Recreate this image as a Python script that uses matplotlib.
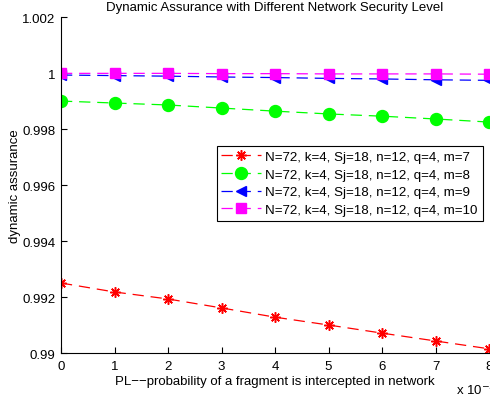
import numpy as np
import matplotlib
matplotlib.use("Agg")
import matplotlib.pyplot as plt

# data
pl = [0, 1, 2, 3, 4, 5, 6, 7, 8]  # x 10^-3
m7 = [0.99250, 0.99218, 0.99193, 0.99161, 0.99128, 0.99100, 0.99071, 0.99043, 0.99015]
m8 = [0.99900, 0.99893, 0.99886, 0.99875, 0.99864, 0.99854, 0.99846, 0.99836, 0.99825]
m9 = [0.99993, 0.99991, 0.99989, 0.99986, 0.99984, 0.99981, 0.99979, 0.99976, 0.99974]
m10 = [0.99999, 0.99999, 0.99999, 0.99998, 0.99998, 0.99997, 0.99997, 0.99997, 0.99996]
labels = ["N=72, k=4, Sj=18, n=12, q=4, m=7",
          "N=72, k=4, Sj=18, n=12, q=4, m=8",
          "N=72, k=4, Sj=18, n=12, q=4, m=9",
          "N=72, k=4, Sj=18, n=12, q=4, m=10"]

plt.rcParams["font.family"] = ["Liberation Sans", "DejaVu Sans"]
plt.rcParams["font.size"] = 9.5

fig = plt.figure(figsize=(4.9, 4.02), dpi=100)
ax = fig.add_axes([0.1245, 0.1194, 0.8735, 0.8356])

dash = (0, (9, 5.5))
ax.plot(pl, m7, color="red", ls=dash, lw=0.9, marker=(8, 2, 0), ms=7.5, mew=1.1, label=labels[0])
ax.plot(pl, m8, color="#00ff00", ls=dash, lw=0.9, marker="o", ms=8.6, label=labels[1])
ax.plot(pl, m9, color="blue", ls=dash, lw=0.9, marker="<", ms=7.5, label=labels[2])
ax.plot(pl, m10, color="magenta", ls=dash, lw=0.9, marker="s", ms=6.5, label=labels[3])

ax.set_xlim(0, 8)
ax.set_ylim(0.99, 1.002)
ax.set_xticks(range(0, 9))
ax.set_yticks([0.99, 0.992, 0.994, 0.996, 0.998, 1.0, 1.002])
ax.set_yticklabels(["0.99", "0.992", "0.994", "0.996", "0.998", "1", "1.002"])
ax.tick_params(direction="in", length=4, width=0.8, pad=4)
ax.tick_params(axis="x", pad=5)
for s in ["top", "right"]:
    ax.spines[s].set_visible(False)

ax.set_xlabel("PL\u2212\u2212probability of a fragment is intercepted in network", labelpad=2)
ax.set_ylabel("dynamic assurance", labelpad=1)
ax.set_title("Dynamic Assurance with Different Network Security Level", fontsize=9.5, pad=5)
fig.text(0.93, 0.03, r"x 10$^{-3}$", ha="left", va="center")

leg = ax.legend(loc="upper left", bbox_to_anchor=(0.364, 0.616), borderaxespad=0,
                fancybox=False, edgecolor="black", framealpha=1, fontsize=9.6,
                handlelength=3.0, borderpad=0.35, labelspacing=0.4, handletextpad=0.3)
leg.get_frame().set_linewidth(0.8)

fig.savefig("out.png", dpi=100)
